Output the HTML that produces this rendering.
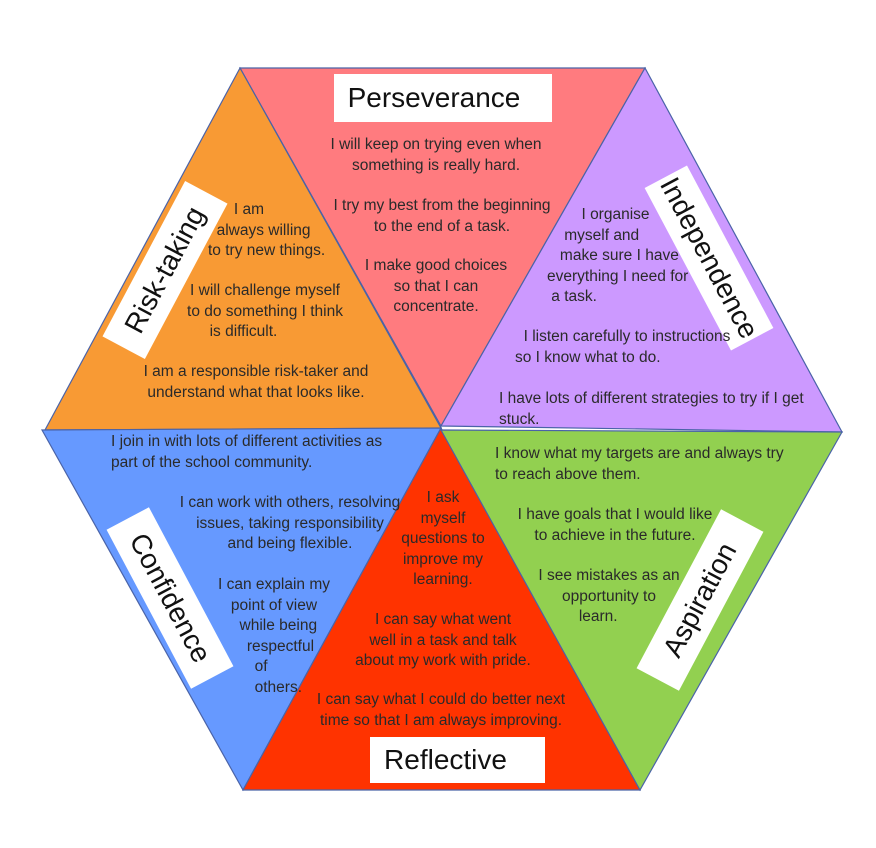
<!DOCTYPE html>
<html><head><meta charset="utf-8"><style>
body{margin:0;background:#fff;width:876px;height:848px;overflow:hidden;position:relative;font-family:"Liberation Sans",Arial,sans-serif}
svg{position:absolute;left:0;top:0}
.t{position:absolute;font-size:15.5px;line-height:20.5px;color:#2a2a2a;text-align:center;white-space:nowrap;transform:translateX(-50%)}
.l{position:absolute;background:#fff;font-size:28px;color:#111;display:flex;align-items:center;justify-content:center;white-space:nowrap}
</style></head><body>
<svg width="876" height="848">
<g stroke="#4a63a8" stroke-width="1.2">
<polygon points="240,68 645,68 441,426" fill="#FF7B7F"/>
<polygon points="240,68 45,430 441,428" fill="#F89A34"/>
<polygon points="645,68 441,426 842,432" fill="#CC99FF"/>
<polygon points="42,430 441,428 243,790" fill="#6699FF"/>
<polygon points="441,428 243,790 640,790" fill="#FF3300"/>
<polygon points="441,430 842,432 640,790" fill="#92D050"/>
</g>
</svg>
<div class="l" style="left:334px;top:74px;width:218px;height:48px;padding-right:18px;box-sizing:border-box">Perseverance</div>
<div class="l" style="left:370px;top:737px;width:175px;height:46px;padding-right:24px;box-sizing:border-box">Reflective</div>
<div class="l" style="left:77px;top:246px;width:176px;height:48px;transform:rotate(-62deg)">Risk-taking</div>
<div class="l" style="left:617px;top:234px;width:184px;height:48px;transform:rotate(62deg)">Independence</div>
<div class="l" style="left:80px;top:574px;width:180px;height:48px;transform:rotate(62deg)">Confidence</div>
<div class="l" style="left:610px;top:576px;width:180px;height:48px;transform:rotate(-62deg)">Aspiration</div>

<div class="t" style="left:436px;top:135px">I will keep on trying even when<br>something is really hard.</div>
<div class="t" style="left:442px;top:196px">I try my best from the beginning<br>to the end of a task.</div>
<div class="t" style="left:436px;top:256px">I make good choices<br>so that I can<br>concentrate.</div>

<div class="t" style="left:208px;top:200px;text-align:left;transform:none">&nbsp;&nbsp;&nbsp;&nbsp;&nbsp;&nbsp;I am<br>&nbsp;&nbsp;always willing<br>to try new things.</div>
<div class="t" style="left:265px;top:281px">I will challenge myself<br>to do something I think<br>&nbsp;&nbsp;&nbsp;&nbsp;is difficult.&nbsp;&nbsp;&nbsp;&nbsp;&nbsp;&nbsp;&nbsp;&nbsp;&nbsp;&nbsp;&nbsp;&nbsp;&nbsp;&nbsp;</div>
<div class="t" style="left:256px;top:362px">I am a responsible risk-taker and<br>understand what that looks like.</div>

<div class="t" style="left:547px;top:205px;text-align:left;transform:none">&nbsp;&nbsp;&nbsp;&nbsp;&nbsp;&nbsp;&nbsp;&nbsp;I organise<br>&nbsp;&nbsp;&nbsp;&nbsp;myself and<br>&nbsp;&nbsp;&nbsp;make sure I have<br>everything I need for<br>&nbsp;a task.</div>
<div class="t" style="left:515px;top:327px;text-align:left;transform:none">&nbsp;&nbsp;I listen carefully to instructions<br>so I know what to do.</div>
<div class="t" style="left:499px;top:389px;text-align:left;transform:none">I have lots of different strategies to try if I get<br>stuck.</div>

<div class="t" style="left:111px;top:432px;text-align:left;transform:none">I join in with lots of different activities as<br>part of the school community.</div>
<div class="t" style="left:290px;top:493px">I can work with others, resolving<br>issues, taking responsibility<br>and being flexible.</div>
<div class="t" style="left:274px;top:575px">I can explain my<br>point of view<br>&nbsp;&nbsp;while being<br>&nbsp;&nbsp;&nbsp;respectful<br>of&nbsp;&nbsp;&nbsp;&nbsp;&nbsp;&nbsp;<br>&nbsp;&nbsp;others.</div>

<div class="t" style="left:443px;top:488px">I ask<br>myself<br>questions to<br>improve my<br>learning.</div>
<div class="t" style="left:443px;top:610px">I can say what went<br>well in a task and talk<br>about my work with pride.</div>
<div class="t" style="left:441px;top:690px">I can say what I could do better next<br>time so that I am always improving.</div>

<div class="t" style="left:495px;top:444px;text-align:left;transform:none">I know what my targets are and always try<br>to reach above them.</div>
<div class="t" style="left:615px;top:505px">I have goals that I would like<br>to achieve in the future.</div>
<div class="t" style="left:609px;top:566px">I see mistakes as an<br>opportunity to<br>&nbsp;&nbsp;learn.&nbsp;&nbsp;&nbsp;&nbsp;&nbsp;&nbsp;&nbsp;</div>
</body></html>
